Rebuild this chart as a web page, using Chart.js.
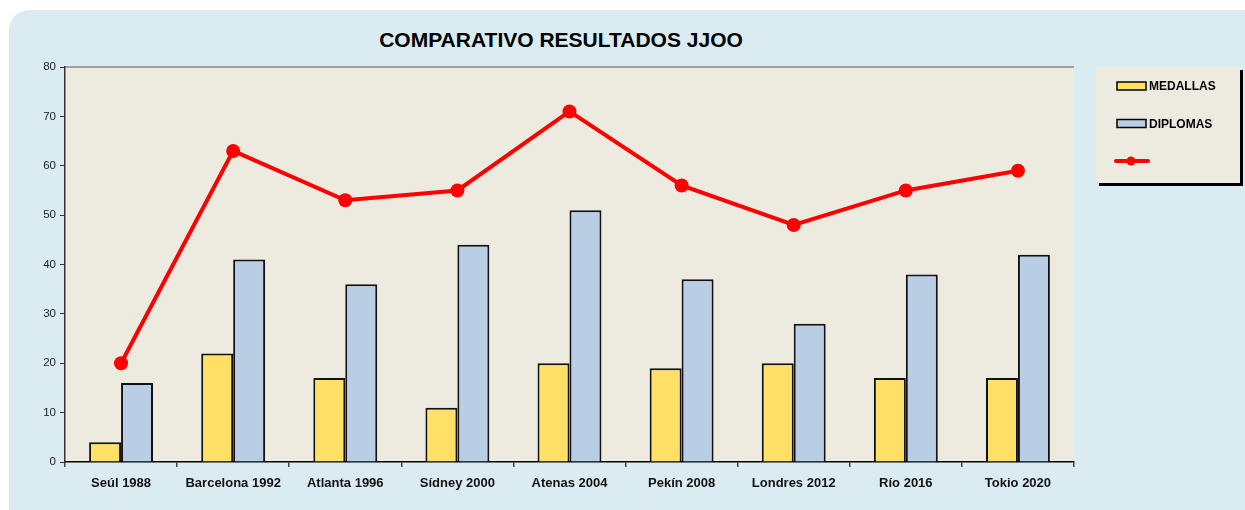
<!DOCTYPE html>
<html>
<head>
<meta charset="utf-8">
<script src="https://cdn.jsdelivr.net/npm/chart.js@4.4.1/dist/chart.umd.min.js"></script>
<style>
  body { margin: 0; background: #fff; }
  #wrap { position: relative; width: 1245px; height: 510px; overflow: hidden; }
  #panel { position: absolute; left: 9px; top: 10px; width: 1260px; height: 520px; background: #DAECF2; border-radius: 20px; }
  #title { position: absolute; left: 0; width: 1122px; top: 28px; text-align: center;
           font: bold 21px "Liberation Sans", Arial, sans-serif; color: #000; }
  canvas { position: absolute; left: 0; top: 0; }
</style>
</head>
<body>
<div id="wrap">
  <div id="panel"></div>
  <div id="title">COMPARATIVO RESULTADOS JJOO</div>
  <canvas id="chart" width="1245" height="510"></canvas>
</div>
<script>
// Data
const categories = ['Seúl 1988', 'Barcelona 1992', 'Atlanta 1996', 'Sídney 2000', 'Atenas 2004',
                    'Pekín 2008', 'Londres 2012', 'Río 2016', 'Tokio 2020'];
const medallas = [4, 22, 17, 11, 20, 19, 20, 17, 17];
const diplomas = [16, 41, 36, 44, 51, 37, 28, 38, 42];
const puestos = [20, 63, 53, 55, 71, 56, 48, 55, 59];

const PLOT_BG = '#EDEBE0';

// Plot background + top frame line
const plotArea = {
    id: 'plotArea',
    beforeDraw(chart) {
        const { ctx, chartArea: a } = chart;
        ctx.save();
        ctx.fillStyle = PLOT_BG;
        ctx.fillRect(a.left, a.top, a.right - a.left, a.bottom - a.top);
        ctx.strokeStyle = '#888';
        ctx.lineWidth = 1.5;
        ctx.beginPath();
        ctx.moveTo(a.left, a.top);
        ctx.lineTo(a.right, a.top);
        ctx.stroke();
        ctx.restore();
    }
};

// Legend box on the right
const boxLegend = {
    id: 'boxLegend',
    afterDraw(chart) {
        const ctx = chart.ctx;
        const x = 1096, y = 67, w = 144, h = 116;
        ctx.save();
        ctx.fillStyle = '#000';
        ctx.fillRect(x + 3, y + 3, w, h);
        ctx.fillStyle = PLOT_BG;
        ctx.fillRect(x, y, w, h);
        ctx.font = 'bold 12px "Liberation Sans", Arial, sans-serif';
        ctx.textBaseline = 'middle';
        chart.data.datasets.forEach((ds, i) => {
            const cy = y + 19 + i * 37.5;
            if (ds.type === 'line') {
                ctx.strokeStyle = ds.borderColor;
                ctx.lineWidth = 4;
                ctx.lineCap = 'round';
                ctx.beginPath();
                ctx.moveTo(1116, cy);
                ctx.lineTo(1148, cy);
                ctx.stroke();
                ctx.fillStyle = ds.borderColor;
                ctx.beginPath();
                ctx.arc(1131, cy, 4.5, 0, Math.PI * 2);
                ctx.fill();
            } else {
                ctx.fillStyle = ds.backgroundColor;
                ctx.fillRect(1117, cy - 4, 29, 8);
                ctx.strokeStyle = '#000';
                ctx.lineWidth = 1.5;
                ctx.strokeRect(1117, cy - 4, 29, 8);
                ctx.fillStyle = '#000';
                ctx.fillText(ds.label, 1149, cy + 1);
            }
        });
        ctx.restore();
    }
};

new Chart(document.getElementById('chart'), {
    type: 'bar',
    data: {
        labels: categories,
        datasets: [
            {
                label: 'MEDALLAS',
                data: medallas,
                backgroundColor: '#FFE066',
                borderColor: '#111',
                borderWidth: 2,
                order: 1
            },
            {
                label: 'DIPLOMAS',
                data: diplomas,
                backgroundColor: '#B9CDE5',
                borderColor: '#111',
                borderWidth: 2,
                order: 1
            },
            {
                type: 'line',
                label: '',
                data: puestos,
                borderColor: '#FF0000',
                backgroundColor: '#FF0000',
                borderWidth: 4,
                pointRadius: 7,
                pointBackgroundColor: '#FF0000',
                pointBorderWidth: 0,
                tension: 0,
                order: 0
            }
        ]
    },
    options: {
        responsive: false,
        animation: false,
        layout: { padding: { left: 0, right: 171, top: 67, bottom: 0 } },
        datasets: { bar: { categoryPercentage: 0.57, barPercentage: 1 } },
        plugins: {
            legend: { display: false },
            tooltip: { enabled: false }
        },
        scales: {
            x: {
                grid: { offset: true, drawOnChartArea: false, color: '#444', tickLength: 5, lineWidth: 1.5 },
                border: { color: '#000', width: 1.5 },
                ticks: { color: '#111', font: { family: '"Liberation Sans", Arial, sans-serif', size: 13, weight: 'bold' }, padding: 9 },
                afterFit(s) { s.height = 48; }
            },
            y: {
                min: 0, max: 80,
                ticks: { stepSize: 10, color: '#222', font: { family: '"Liberation Sans", Arial, sans-serif', size: 11.5 }, padding: 4 },
                grid: { drawOnChartArea: false, color: '#333', tickLength: 5, lineWidth: 1 },
                border: { color: '#333', width: 1.5 },
                afterFit(s) { s.width = 65; }
            }
        }
    },
    plugins: [plotArea, boxLegend]
});
</script>
</body>
</html>
